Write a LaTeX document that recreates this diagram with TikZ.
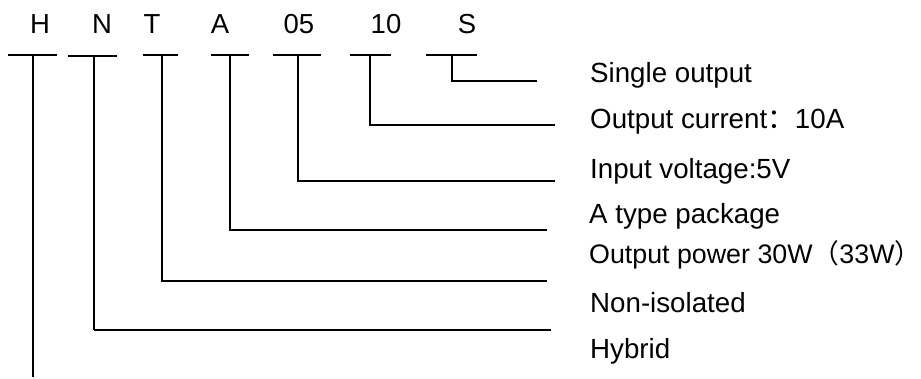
\documentclass[tikz,border=0pt]{standalone}
\usepackage{fontspec}
\setmainfont{Liberation Sans}
\newfontfamily\cjk{Noto Sans CJK SC}
\begin{document}
\begin{tikzpicture}[x=1pt,y=-1pt,
  code/.style={font=\fontsize{27.5}{32}\selectfont, anchor=base, inner sep=0pt},
  lbl/.style={font=\fontsize{27.7}{32}\selectfont, anchor=base west, inner sep=0pt},
  wire/.style={line width=2.7pt},
  thinwire/.style={line width=1.1pt}]
\useasboundingbox (0,0) rectangle (921,378);
% code letters
\node[code] (cH) at (40,33) {H};
\node[code] (cN) at (102,33) {N};
\node[code] (cT) at (152,33) {T};
\node[code] (cA) at (220,33) {A};
\node[code] (c05) at (299,33) {05};
\node[code] (c10) at (386,33) {10};
\node[code] (cS) at (467,33) {S};
% labels
\node[lbl] (lS) at (590,82) {Single output};
\node[lbl] (l10) at (590,128) {Output current{\cjk ：}10A};
\node[lbl] (l05) at (590,178) {Input voltage:5V};
\node[lbl] (lA) at (589,223) {A type package};
\node[lbl, font=\fontsize{26.8}{32}\selectfont] (lT) at (589,263) {Output power 30W{\cjk （}33W\makebox[0.4em][l]{\cjk ）}};
\node[lbl] (lN) at (590,312) {Non-isolated};
\node[lbl] (lH) at (590,358) {Hybrid};
% coordinates
\coordinate (bH1) at (8,55);  \coordinate (bH2) at (57,55);
\coordinate (vH) at (33,55);  \coordinate (eH) at (33,377);
\coordinate (bN1) at (68,56); \coordinate (bN2) at (117,56);
\coordinate (vN) at (94,56);  \coordinate (kN) at (94,330); \coordinate (eN) at (551,330);
\coordinate (bT1) at (143,55); \coordinate (bT2) at (178,55);
\coordinate (vT) at (162,55); \coordinate (kT) at (162,281); \coordinate (eT) at (547,281);
\coordinate (bA1) at (211,55); \coordinate (bA2) at (249,55);
\coordinate (vA) at (230,55); \coordinate (kA) at (230,230); \coordinate (eA) at (547,230);
\coordinate (b051) at (273,55); \coordinate (b052) at (321,55);
\coordinate (v05) at (298,55); \coordinate (k05) at (298,181); \coordinate (e05) at (555,181);
\coordinate (b101) at (350,55); \coordinate (b102) at (391,55);
\coordinate (v10) at (370,55); \coordinate (k10) at (370,125); \coordinate (e10) at (555,125);
\coordinate (bS1) at (426,55); \coordinate (bS2) at (477,55);
\coordinate (vS) at (452,55); \coordinate (kS) at (452,81); \coordinate (eS) at (537,81);
% bars
\foreach \b in {H,N,T,A,05,10,S}{\draw[wire] (b\b1) -- (b\b2);}
% leaders
\draw[wire] (vH) -- (eH);
\draw[thinwire] (vN) -- (kN);
\draw[wire] (kN) -- (eN);
\draw[wire] (vT) -- (kT) -- (eT);
\draw[wire] (vA) -- (kA) -- (eA);
\draw[wire] (v05) -- (k05) -- (e05);
\draw[wire] (v10) -- (k10) -- (e10);
\draw[wire] (vS) -- (kS) -- (eS);
\end{tikzpicture}
\end{document}
